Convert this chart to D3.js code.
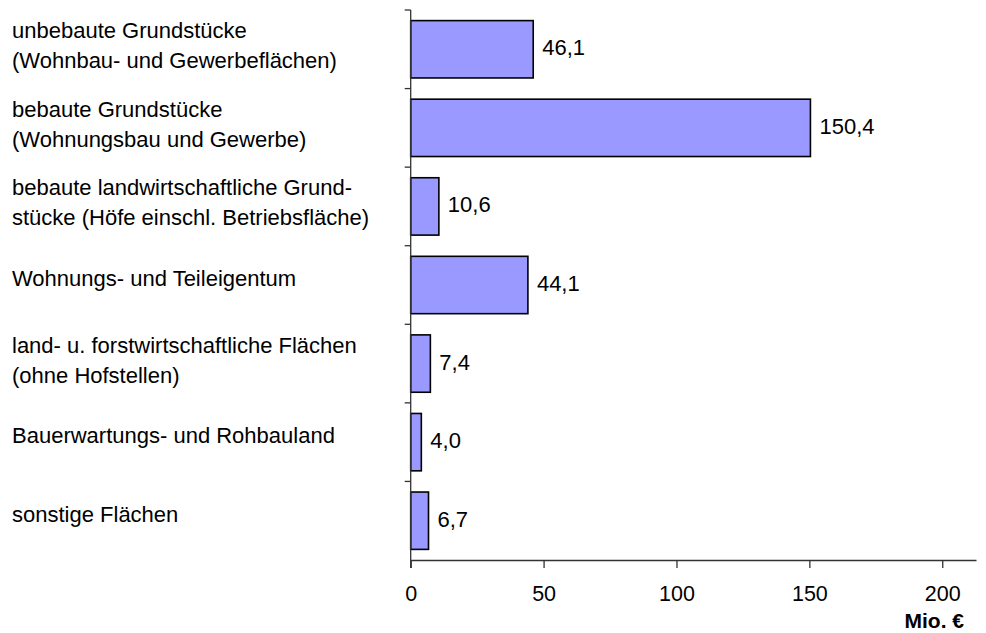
<!DOCTYPE html>
<html>
<head>
<meta charset="utf-8">
<script src="https://cdn.jsdelivr.net/npm/d3@7"></script>
<style>
	body { margin: 0; background: #fff; }
	svg { display: block; font-family: 'Liberation Sans', Arial, sans-serif; }
</style>
</head>
<body>
<svg id="chart" width="986" height="633"></svg>
<script>
// category labels, one entry per line of text
const categories = [
	['unbebaute Grundstücke', '(Wohnbau- und Gewerbeflächen)'],
	['bebaute Grundstücke', '(Wohnungsbau und Gewerbe)'],
	['bebaute landwirtschaftliche Grund-', 'stücke (Höfe einschl. Betriebsfläche)'],
	['Wohnungs- und Teileigentum'],
	['land- u. forstwirtschaftliche Flächen', '(ohne Hofstellen)'],
	['Bauerwartungs- und Rohbauland'],
	['sonstige Flächen'],
]
const values = [46.1, 150.4, 10.6, 44.1, 7.4, 4.0, 6.7]
const xTicks = [0, 50, 100, 150, 200]
const unitLabel = 'Mio. €'

const svg = d3.select('#chart')
const fontSize = 22

//Scales
const x = d3.scaleLinear().domain([0, 212.7]).range([410.7, 976])
const y = d3
	.scaleBand()
	.domain(d3.range(values.length))
	.range([10, 560])
	.paddingInner(0.27)
	.paddingOuter(0.135)

const fmt = v => d3.format('.1f')(v).replace('.', ',')
const center = i => y(i) + y.bandwidth() / 2

//Bars
svg
	.append('g')
	.selectAll('rect')
	.data(values)
	.join('rect')
	.attr('x', x(0))
	.attr('y', (d, i) => y(i))
	.attr('width', d => x(d) - x(0))
	.attr('height', y.bandwidth())
	.attr('fill', '#9999ff')
	.attr('stroke', '#000')
	.attr('stroke-width', 1.6)

//Value labels
svg
	.append('g')
	.selectAll('text')
	.data(values)
	.join('text')
	.attr('x', d => x(d) + 9)
	.attr('y', (d, i) => center(i) + 6)
	.attr('font-size', fontSize)
	.attr('fill', '#000')
	.text(fmt)

//x axis
const xAxis = svg
	.append('g')
	.attr('transform', 'translate(0,560)')
	.call(d3.axisBottom(x).tickValues(xTicks).tickSize(8).tickPadding(18).tickSizeOuter(0).tickFormat(d3.format('d')))

xAxis.select('.domain').attr('stroke', '#333').attr('stroke-width', 1.3)
xAxis.selectAll('.tick line').attr('stroke', '#333').attr('stroke-width', 1.3)
xAxis
	.selectAll('.tick text')
	.attr('font-size', 21.5)
	.attr('font-family', 'Liberation Sans, Arial, sans-serif')
	.attr('fill', '#000')

//y axis line and category separators
const yLine = svg.append('g')
yLine
	.append('line')
	.attr('x1', x(0))
	.attr('x2', x(0))
	.attr('y1', 10)
	.attr('y2', 568)
	.attr('stroke', '#333')
	.attr('stroke-width', 1.3)

yLine
	.selectAll('.sep')
	.data(d3.range(values.length))
	.join('line')
	.attr('class', 'sep')
	.attr('x1', x(0) - 6)
	.attr('x2', x(0))
	.attr('y1', i => 10 + i * y.step())
	.attr('y2', i => 10 + i * y.step())
	.attr('stroke', '#333')
	.attr('stroke-width', 1.3)

//Category labels
const labels = svg
	.append('g')
	.selectAll('text')
	.data(categories)
	.join('text')
	.attr('font-size', fontSize)
	.attr('fill', '#000')

labels
	.selectAll('tspan')
	.data((d, i) => d.map((line, k) => ({ line, k, n: d.length, i })))
	.join('tspan')
	.attr('x', 12)
	.attr('y', d => (d.n === 1 ? center(d.i) + 1 : center(d.i) - 11 + d.k * 30))
	.text(d => d.line)

//Unit label
svg
	.append('text')
	.attr('x', 964)
	.attr('y', 628)
	.attr('text-anchor', 'end')
	.attr('font-size', 21)
	.attr('font-weight', 'bold')
	.attr('fill', '#000')
	.text(unitLabel)
</script>
</body>
</html>
